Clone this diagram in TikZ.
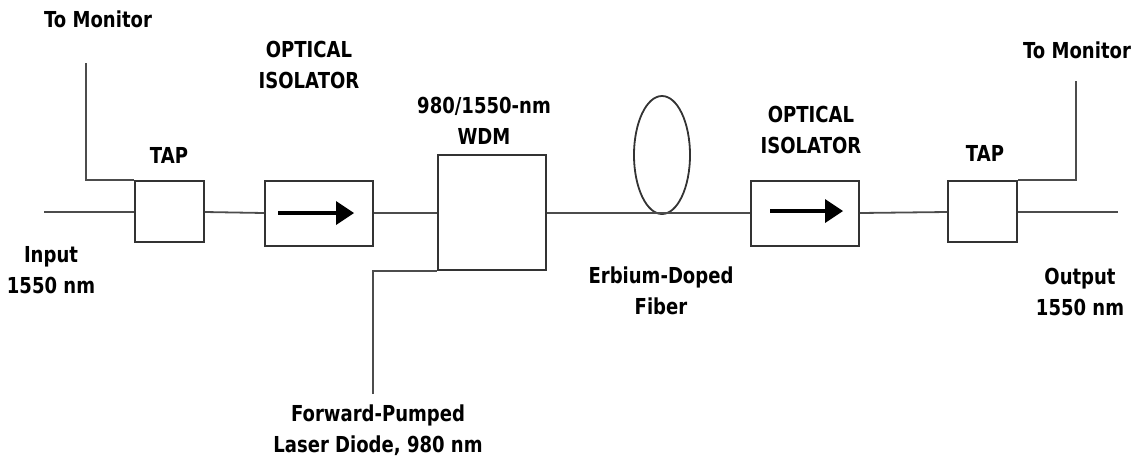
\documentclass[tikz,border=0pt]{standalone}
\usepackage{fontspec}
\setmainfont{DejaVu Sans}
\usetikzlibrary{shapes.geometric}
\tikzset{
  fiberbox/.style={draw=black!80,fill=white,line width=1.8pt,inner sep=0pt},
  caption/.style={font=\bfseries\fontsize{22pt}{31pt}\selectfont,align=center,inner sep=0pt,transform shape,xscale=0.82},
  fiber/.style={line width=1.8pt,black!70}
}
\begin{document}
\begin{tikzpicture}[x=1pt,y=-1pt]
        \useasboundingbox (0,0) rectangle (1141,459);
        % boxes, left to right
        \node[fiberbox,minimum width=69,minimum height=61] (tapa) at (169.5,211.5) {};
        \node[fiberbox,minimum width=108,minimum height=65] (isoa) at (319,213.5) {};
        \node[fiberbox,minimum width=108,minimum height=115] (wdm) at (492,212.5) {};
        \node[draw=black!80,line width=1.8pt,ellipse,minimum width=56,minimum height=118,inner sep=0pt] (coil) at (662,155) {};
        \node[fiberbox,minimum width=108,minimum height=65] (isob) at (805,213.5) {};
        \node[fiberbox,minimum width=69,minimum height=61] (tapb) at (982.5,211.5) {};
        % free ends
        \coordinate (inp) at (44,212);
        \coordinate (outp) at (1118,212);
        \coordinate (mona) at (86,63);
        \coordinate (monb) at (1076,81);
        \coordinate (pump) at (373,394);
        % main line
        \draw[fiber] (inp) -- (tapa.west |- inp);
        \draw[fiber] (tapa.east |- inp) -- (isoa.west |- 0,213);
        \draw[fiber] (isoa.east |- 0,213) -- (wdm.west |- 0,213);
        \draw[fiber] (wdm.east |- 0,213) -- (isob.west |- 0,213);
        \draw[fiber] (isob.east |- 0,213) -- (tapb.west |- 0,212);
        \draw[fiber] (tapb.east |- 0,212) -- (outp);
        % monitor and pump branches
        \draw[fiber] (mona) -- (mona |- tapa.north) -- (tapa.north west);
        \draw[fiber] (monb) -- (monb |- tapb.north) -- (tapb.north east);
        \draw[fiber] (pump) -- (pump |- wdm.south) -- (wdm.south west);
        % isolator arrows
        \coordinate (ra) at (278,213);
        \coordinate (rb) at (354,213);
        \coordinate (rc) at (770,211);
        \coordinate (rd) at (843,211);
        \foreach \s/\e in {ra/rb,rc/rd}{
            \draw[line width=3.6pt] (\s) -- ([xshift=-16]\e);
            \fill (\e) -- ++(-18,-12) -- ++(0,24) -- cycle;}
        % labels
        \node[caption] (moa) at (98,19) {To Monitor};
        \node[caption] (tpa) at (169,155) {TAP};
        \node[caption] (ola) at (309,65) {OPTICAL\\ISOLATOR};
        \node[caption] (wdl) at (484,121) {980/1550-nm\\WDM};
        \node[caption] (inl) at (51,270) {Input\\1550 nm};
        \node[caption] (lsr) at (378,430) {Forward-Pumped\\Laser Diode, 980 nm};
        \node[caption] (erb) at (661,291) {Erbium-Doped\\Fiber};
        \node[caption] (olb) at (811,130) {OPTICAL\\ISOLATOR};
        \node[caption] (tpb) at (985,153) {TAP};
        \node[caption] (mob) at (1077,50) {To Monitor};
        \node[caption] (oul) at (1080,292) {Output\\1550 nm};
      \end{tikzpicture}
\end{document}
